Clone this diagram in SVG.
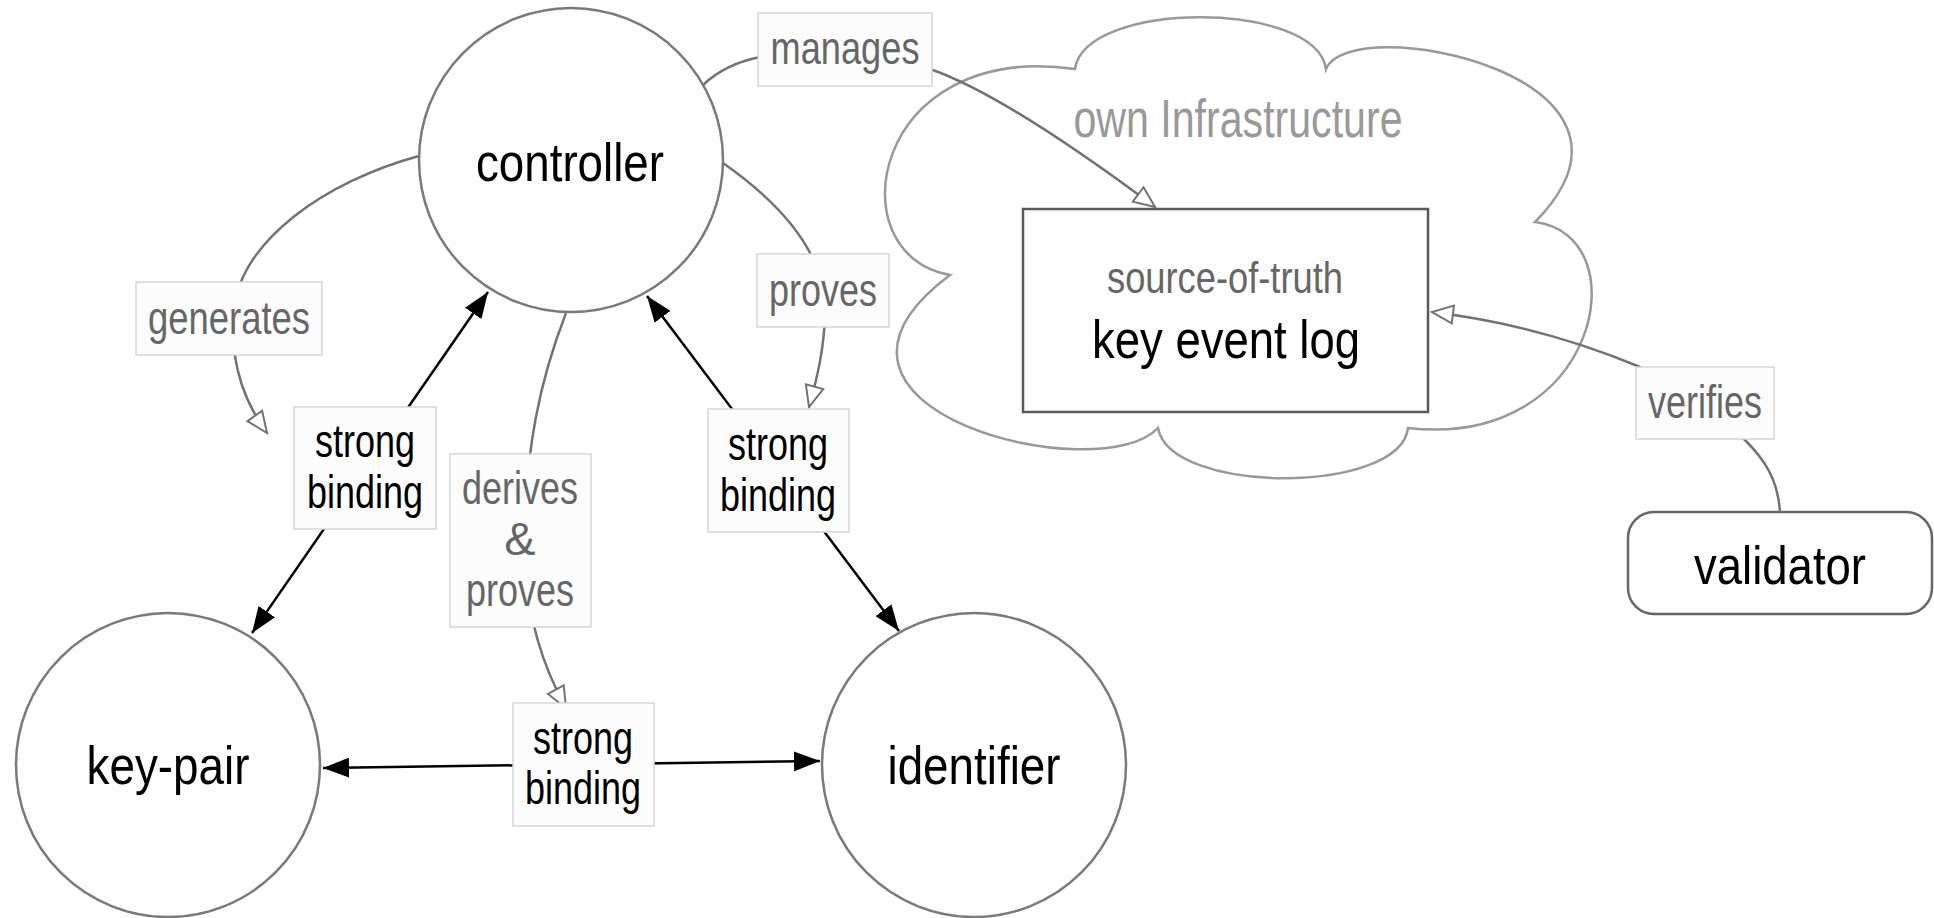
<svg xmlns="http://www.w3.org/2000/svg" width="1934" height="918" viewBox="0 0 1934 918">
<style>
text{font-family:"Liberation Sans",Arial,sans-serif;text-anchor:middle}
.node{fill:#fdfdfd;stroke:#7a7a7a;stroke-width:2.5}
.nt{font-size:53px;fill:#000}
.lbox{fill:#fcfcfc;stroke:#d6d6d6;stroke-width:1.5}
.lt{font-size:47px;fill:#666}
.bt{font-size:47px;fill:#000}
.grey{fill:none;stroke:#737373;stroke-width:2.5}
.black{fill:none;stroke:#000;stroke-width:2.5}
</style>
<defs>
<marker id="arrBlack" viewBox="0 0 26 20" refX="26" refY="10" markerWidth="26" markerHeight="20" orient="auto-start-reverse" markerUnits="userSpaceOnUse"><path d="M0,0 L26,10 L0,20 z" fill="#000"/></marker>
<marker id="arrOpen" viewBox="-2 -2 26 22" refX="21" refY="9" markerWidth="26" markerHeight="22" orient="auto" markerUnits="userSpaceOnUse"><path d="M0,0 L21,9 L0,18 z" fill="#fff" stroke="#737373" stroke-width="2"/></marker>
</defs>
<rect width="1934" height="918" fill="#fff"/>

<g id="cloud">
<path d="M1075,69 C1085,0 1316,0 1326,69 C1350,10 1680,75 1535,222 C1640,235 1600,450 1408,428 C1400,495 1170,495 1158,428 C1100,490 770,410 950,275 C835,255 870,40 1075,69 Z" fill="#fff" stroke="#999" stroke-width="2.5"/>
<text x="1238" y="137" font-size="54" fill="#999" textLength="329" lengthAdjust="spacingAndGlyphs">own Infrastructure</text>
</g>

<g id="controller">
<circle class="node" cx="571" cy="160" r="152"/>
<text class="nt" x="570" y="181" textLength="188" lengthAdjust="spacingAndGlyphs">controller</text>
</g>
<g id="key-pair">
<circle class="node" cx="168" cy="765" r="152"/>
<text class="nt" x="168" y="784" textLength="163" lengthAdjust="spacingAndGlyphs">key-pair</text>
</g>
<g id="identifier">
<circle class="node" cx="974" cy="765" r="152"/>
<text class="nt" x="974" y="784" textLength="173" lengthAdjust="spacingAndGlyphs">identifier</text>
</g>
<g id="key-event-log">
<rect x="1023" y="209" width="405" height="203" fill="#fdfdfd" stroke="#5a5a5a" stroke-width="2.5"/>
<text x="1225" y="293" font-size="45" fill="#666" textLength="236" lengthAdjust="spacingAndGlyphs">source-of-truth</text>
<text class="nt" x="1226" y="358" textLength="268" lengthAdjust="spacingAndGlyphs">key event log</text>
</g>
<g id="validator">
<rect x="1628" y="512" width="304" height="102" rx="26" fill="#fdfdfd" stroke="#666" stroke-width="2.5"/>
<text class="nt" x="1780" y="584" textLength="172" lengthAdjust="spacingAndGlyphs">validator</text>
</g>

<g id="connectors">
<path class="grey" d="M703,85 Q725,64 760,57 L930,69 Q1005,95 1155,207" marker-end="url(#arrOpen)"/>
<path class="grey" d="M419,156 C330,180 236,240 233,318 C231,370 247,405 267,433" marker-end="url(#arrOpen)"/>
<path class="grey" d="M723,163 C790,210 825,260 825,310 C825,350 815,385 809,407" marker-end="url(#arrOpen)"/>
<path class="grey" d="M566,313 C540,380 525,450 525,540 C525,620 545,670 566,708" marker-end="url(#arrOpen)"/>
<path class="grey" d="M1780,512 C1778,480 1765,460 1745,440 L1640,367 Q1540,325 1432,312" marker-end="url(#arrOpen)"/>
<path class="black" d="M252,633 L488,292" marker-start="url(#arrBlack)" marker-end="url(#arrBlack)"/>
<path class="black" d="M647,296 L899,631" marker-start="url(#arrBlack)" marker-end="url(#arrBlack)"/>
<path class="black" d="M323,768 L820,761" marker-start="url(#arrBlack)" marker-end="url(#arrBlack)"/>
</g>

<g id="edge-labels">
<g id="lbl-manages"><rect class="lbox" x="758" y="13" width="174" height="73"/><text class="lt" x="845" y="64" textLength="149" lengthAdjust="spacingAndGlyphs">manages</text></g>
<g id="lbl-generates"><rect class="lbox" x="136" y="282" width="186" height="73"/><text class="lt" x="229" y="334" textLength="162" lengthAdjust="spacingAndGlyphs">generates</text></g>
<g id="lbl-proves"><rect class="lbox" x="757" y="254" width="132" height="73"/><text class="lt" x="823" y="306" textLength="108" lengthAdjust="spacingAndGlyphs">proves</text></g>
<g id="lbl-derives"><rect class="lbox" x="450" y="454" width="141" height="173"/>
<text class="lt" x="520" y="504" textLength="116" lengthAdjust="spacingAndGlyphs">derives</text>
<text class="lt" x="520" y="555">&amp;</text>
<text class="lt" x="520" y="606" textLength="108" lengthAdjust="spacingAndGlyphs">proves</text></g>
<g id="lbl-sb-left"><rect class="lbox" x="294" y="407" width="142" height="122"/>
<text class="bt" x="365" y="457" textLength="100" lengthAdjust="spacingAndGlyphs">strong</text>
<text class="bt" x="365" y="508" textLength="116" lengthAdjust="spacingAndGlyphs">binding</text></g>
<g id="lbl-sb-right"><rect class="lbox" x="708" y="409" width="141" height="123"/>
<text class="bt" x="778" y="460" textLength="100" lengthAdjust="spacingAndGlyphs">strong</text>
<text class="bt" x="778" y="511" textLength="116" lengthAdjust="spacingAndGlyphs">binding</text></g>
<g id="lbl-sb-bottom"><rect class="lbox" x="513" y="703" width="141" height="123"/>
<text class="bt" x="583" y="754" textLength="100" lengthAdjust="spacingAndGlyphs">strong</text>
<text class="bt" x="583" y="804" textLength="116" lengthAdjust="spacingAndGlyphs">binding</text></g>
<g id="lbl-verifies"><rect class="lbox" x="1636" y="367" width="138" height="72"/><text class="lt" x="1705" y="418" textLength="114" lengthAdjust="spacingAndGlyphs">verifies</text></g>
</g>
</svg>
